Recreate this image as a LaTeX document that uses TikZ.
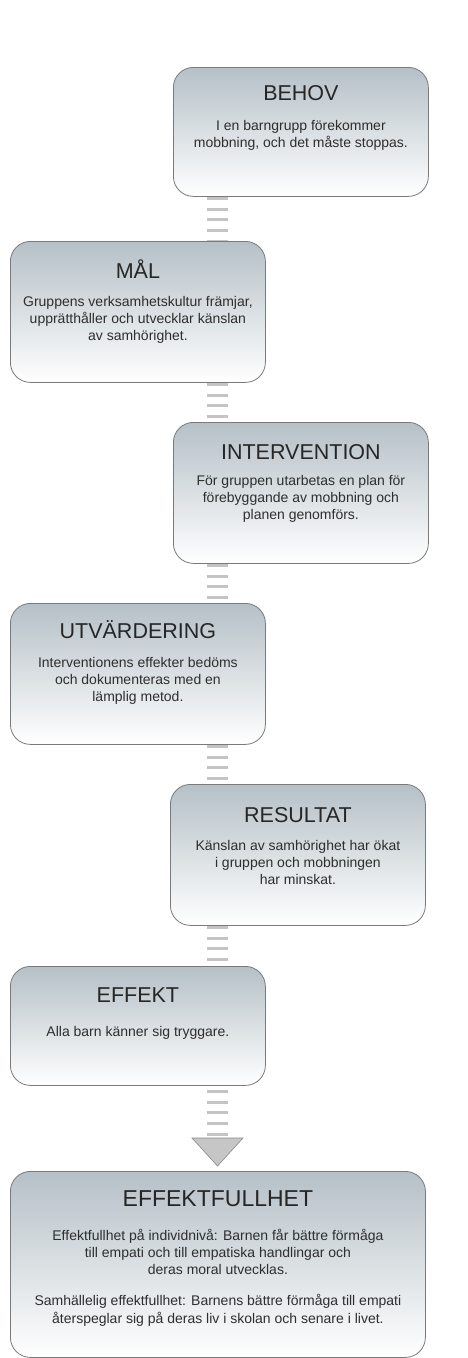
\documentclass[tikz,border=0pt]{standalone}
\usepackage{fontspec}
\setmainfont{Liberation Sans}
\usetikzlibrary{backgrounds}
\definecolor{boxtop}{HTML}{B5C0C7}
\definecolor{boxmid}{HTML}{DCE1E4}
\definecolor{boxline}{HTML}{7A7A7A}
\definecolor{stripecol}{HTML}{C4C4C4}
\definecolor{titlecol}{HTML}{262626}
\definecolor{bodycol}{HTML}{2E2E2E}
\definecolor{trifill}{HTML}{C6C6C6}
\definecolor{triline}{HTML}{8A8A8A}
\tikzset{
  stagebox/.style={draw=boxline, line width=0.8pt, rounded corners=20pt,
    top color=boxtop, middle color=boxmid, bottom color=white,
    anchor=north west, inner sep=0pt, minimum width=255pt},
  titletext/.style={anchor=base, inner sep=0pt, text=titlecol, font=\fontsize{21.5}{24}\selectfont},
  bodytext/.style={anchor=base, inner sep=0pt, text=bodycol, align=center,
    font=\fontsize{14}{17.3}\selectfont},
  stripes/.style={draw=stripecol, line width=21pt, dash pattern=on 3pt off 7.75pt},
  tri/.style={draw=triline, fill=trifill, line width=0.6pt, line join=miter}
}
\begin{document}
\begin{tikzpicture}[x=1pt,y=-1pt]
\useasboundingbox (0,0) rectangle (468,1358);
% boxes
\node[stagebox, minimum height=129pt] (behov) at (173,67) {};
\node[stagebox, minimum height=141pt] (mal) at (10,241) {};
\node[stagebox, minimum height=141pt] (interv) at (173,422) {};
\node[stagebox, minimum height=141pt] (utv) at (10,603) {};
\node[stagebox, minimum height=141pt] (result) at (170,784) {};
\node[stagebox, minimum height=119pt] (effekt) at (10,966) {};
\node[stagebox, minimum height=186pt, minimum width=415pt] (fullhet) at (10,1171) {};
% titles
\node[titletext] (behovT) at ([yshift=-33pt]behov.north) {BEHOV};
\node[titletext] (malT) at ([yshift=-37pt]mal.north) {MÅL};
\node[titletext] (intervT) at ([yshift=-37pt]interv.north) {INTERVENTION};
\node[titletext] (utvT) at ([yshift=-35pt]utv.north) {UTVÄRDERING};
\node[titletext] (resultT) at ([yshift=-38pt]result.north) {RESULTAT};
\node[titletext] (effektT) at ([yshift=-36pt]effekt.north) {EFFEKT};
\node[titletext, font=\fontsize{23}{26}\selectfont] (fullhetT) at ([yshift=-35pt]fullhet.north) {EFFEKTFULLHET};
% bodies (base anchor = baseline of last line)
\node[bodytext] (behovB) at ([yshift=-80.3pt]behov.north) {I en barngrupp förekommer\\mobbning, och det måste stoppas.};
\node[bodytext] (malB) at ([yshift=-99.6pt]mal.north) {Gruppens verksamhetskultur främjar,\\upprätthåller och utvecklar känslan\\av samhörighet.};
\node[bodytext] (intervB) at ([yshift=-97.6pt]interv.north) {För gruppen utarbetas en plan för\\förebyggande av mobbning och\\planen genomförs.};
\node[bodytext] (utvB) at ([yshift=-98.6pt]utv.north) {Interventionens effekter bedöms\\och dokumenteras med en\\lämplig metod.};
\node[bodytext] (resultB) at ([yshift=-100.6pt]result.north) {Känslan av samhörighet har ökat\\i gruppen och mobbningen\\har minskat.};
\node[bodytext] (effektB) at ([yshift=-70pt]effekt.north) {Alla barn känner sig tryggare.};
\node[bodytext] (fullhetB) at ([yshift=-152.2pt]fullhet.north) {Effektfullhet på individnivå: Barnen får bättre förmåga\\till empati och till empatiska handlingar och\\deras moral utvecklas.\\[14pt]Samhällelig effektfullhet: Barnens bättre förmåga till empati\\återspeglar sig på deras liv i skolan och senare i livet.};
% connectors
\coordinate (col) at (217.5,0);
\coordinate (tritop) at (217.5,1138);
\coordinate (trileft) at (192,1138);
\coordinate (triright) at (243,1138);
\coordinate (tip) at (217.5,1166);
\begin{scope}[on background layer]
\fill[white] (0,0) rectangle (468,1358);
\draw[stripes] (behov.south -| col) -- (mal.north -| col);
\draw[stripes] (mal.south -| col) -- (interv.north -| col);
\draw[stripes] (interv.south -| col) -- (utv.north -| col);
\draw[stripes] (utv.south -| col) -- (result.north -| col);
\draw[stripes] (result.south -| col) -- (effekt.north -| col);
\draw[stripes] ([yshift=-4pt]effekt.south -| col) -- (tritop);
\end{scope}
\draw[tri] (trileft) -- (triright) -- (tip) -- cycle;
\end{tikzpicture}
\end{document}
